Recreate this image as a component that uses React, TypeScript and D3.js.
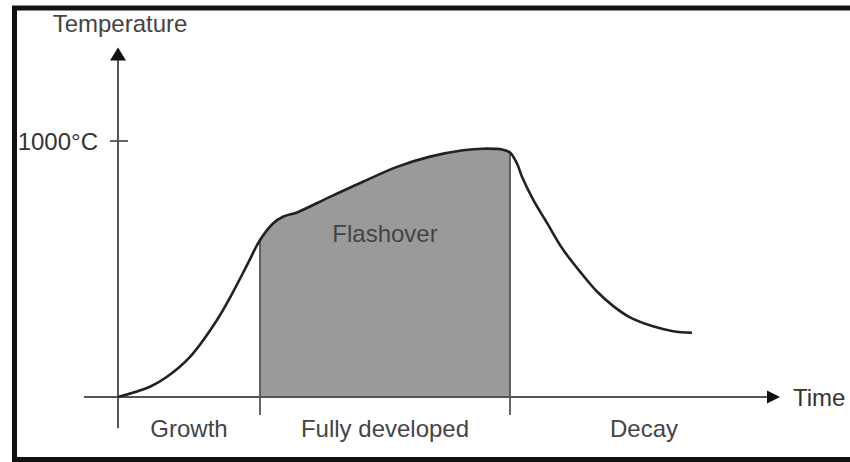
import React, { useEffect, useRef } from 'react';
import * as d3 from 'd3';

// Fire development curve (time in arbitrary units, temperature in °C)
const times = [
  0, 3.2, 4.9, 7.2, 9.9, 11.5, 12.9, 14.2, 15.5, 16.5, 17.9, 21.2, 24.5, 27.9, 31.2, 34.5, 36.5,
  38.5, 39.2, 39.9, 40.4, 41.5, 42.9, 44.5, 46.2, 47.9, 49.5, 51.2, 53.5, 55.5, 57.4,
];
const temps = [
  0, 40, 79, 157, 301, 410, 515, 613, 678, 704, 721, 782, 841, 899, 939, 964, 970,
  966, 955, 912, 860, 772, 680, 576, 490, 412, 356, 311, 276, 257, 251,
];

const phaseNames = ['Growth', 'Fully developed', 'Decay'];
const phaseBounds = [0, 14.2, 39.2, 66];

const tempTicks = [1000];
const tempTickLabels = ['1000°C'];

const timeAxisExtent = [-3.4, 66.2];
const tempAxisExtent = [-122, 1365];
const flashoverLabel = { text: 'Flashover', temp: 605 };

const W = 850;
const H = 462;

const App: React.FC = () => {
  const ref = useRef<SVGSVGElement | null>(null);

  useEffect(() => {
    if (!ref.current) return;
    const svg = d3.select(ref.current);
    svg.selectAll('*').remove();

    const font = '"Liberation Sans", Arial, sans-serif';
    const data = times.map((t, i) => ({ t, v: temps[i] }));

    const x = d3.scaleLinear().domain([0, 10]).range([118, 218]);
    const y = d3.scaleLinear().domain([0, 1000]).range([397, 141]);
    const curve = d3.curveCatmullRom.alpha(0.5);

    // frame
    svg.append('rect')
      .attr('x', 14.5).attr('y', 8)
      .attr('width', W).attr('height', 451.5)
      .attr('fill', 'white')
      .attr('stroke', '#111').attr('stroke-width', 5);

    // shaded fully-developed phase, clipped to its time span
    svg.append('clipPath').attr('id', 'phase-clip')
      .append('rect')
      .attr('x', x(phaseBounds[1]))
      .attr('y', 0)
      .attr('width', x(phaseBounds[2]) - x(phaseBounds[1]))
      .attr('height', y(0));

    const area = d3.area<{ t: number; v: number }>()
      .x(d => x(d.t)).y0(y(0)).y1(d => y(d.v))
      .curve(curve);

    svg.append('path')
      .datum(data)
      .attr('clip-path', 'url(#phase-clip)')
      .attr('fill', '#9a9a9a')
      .attr('d', area);

    // phase dividers
    [phaseBounds[1], phaseBounds[2]].forEach(b => {
      const d = data.find(p => p.t === b);
      svg.append('line')
        .attr('x1', x(b)).attr('x2', x(b))
        .attr('y1', d ? y(d.v) : y(0)).attr('y2', 415)
        .attr('stroke', '#555').attr('stroke-width', 1.8);
    });

    // axes
    const axisColor = '#555';
    svg.append('line')
      .attr('x1', x(timeAxisExtent[0])).attr('x2', x(timeAxisExtent[1]) - 10)
      .attr('y1', y(0)).attr('y2', y(0))
      .attr('stroke', axisColor).attr('stroke-width', 2);
    svg.append('line')
      .attr('x1', x(0)).attr('x2', x(0))
      .attr('y1', y(tempAxisExtent[0])).attr('y2', y(tempAxisExtent[1]) + 10)
      .attr('stroke', axisColor).attr('stroke-width', 2);

    const tx = x(timeAxisExtent[1]);
    svg.append('path')
      .attr('d', `M${tx},${y(0)} L${tx - 13},${y(0) - 6.5} L${tx - 13},${y(0) + 6.5} Z`)
      .attr('fill', '#111');
    const ty = y(tempAxisExtent[1]);
    svg.append('path')
      .attr('d', `M${x(0)},${ty} L${x(0) - 8},${ty + 13} L${x(0) + 8},${ty + 13} Z`)
      .attr('fill', '#111');

    // y ticks
    tempTicks.forEach((v, i) => {
      svg.append('line')
        .attr('x1', x(0) - 8).attr('x2', x(0) + 10)
        .attr('y1', y(v)).attr('y2', y(v))
        .attr('stroke', axisColor).attr('stroke-width', 1.8);
      svg.append('text')
        .attr('x', 98).attr('y', y(v)).attr('dy', '0.36em')
        .attr('text-anchor', 'end')
        .attr('font-family', font).attr('font-size', 24)
        .attr('fill', '#333')
        .text(tempTickLabels[i]);
    });

    // axis titles
    svg.append('text')
      .attr('x', 120).attr('y', 32)
      .attr('text-anchor', 'middle')
      .attr('font-family', font).attr('font-size', 24)
      .attr('fill', '#444')
      .text('Temperature');
    svg.append('text')
      .attr('x', 793).attr('y', y(0)).attr('dy', '0.36em')
      .attr('font-family', font).attr('font-size', 24)
      .attr('fill', '#333')
      .text('Time');

    // phase labels
    phaseNames.forEach((name, i) => {
      svg.append('text')
        .attr('x', x((phaseBounds[i] + phaseBounds[i + 1]) / 2))
        .attr('y', 437)
        .attr('text-anchor', 'middle')
        .attr('font-family', font).attr('font-size', 24)
        .attr('fill', '#444')
        .text(name);
    });

    svg.append('text')
      .attr('x', x((phaseBounds[1] + phaseBounds[2]) / 2))
      .attr('y', y(flashoverLabel.temp))
      .attr('text-anchor', 'middle')
      .attr('font-family', font).attr('font-size', 24)
      .attr('fill', '#444')
      .text(flashoverLabel.text);

    // curve
    const line = d3.line<{ t: number; v: number }>()
      .x(d => x(d.t)).y(d => y(d.v))
      .curve(curve);
    svg.append('path')
      .datum(data)
      .attr('fill', 'none')
      .attr('stroke', '#222')
      .attr('stroke-width', 2.6)
      .attr('d', line);
  }, []);

  return (
    <svg
      ref={ref}
      width={W}
      height={H}
      style={{ position: 'absolute', left: 0, top: 0, display: 'block', background: 'white' }}
    />
  );
};

export default App;
